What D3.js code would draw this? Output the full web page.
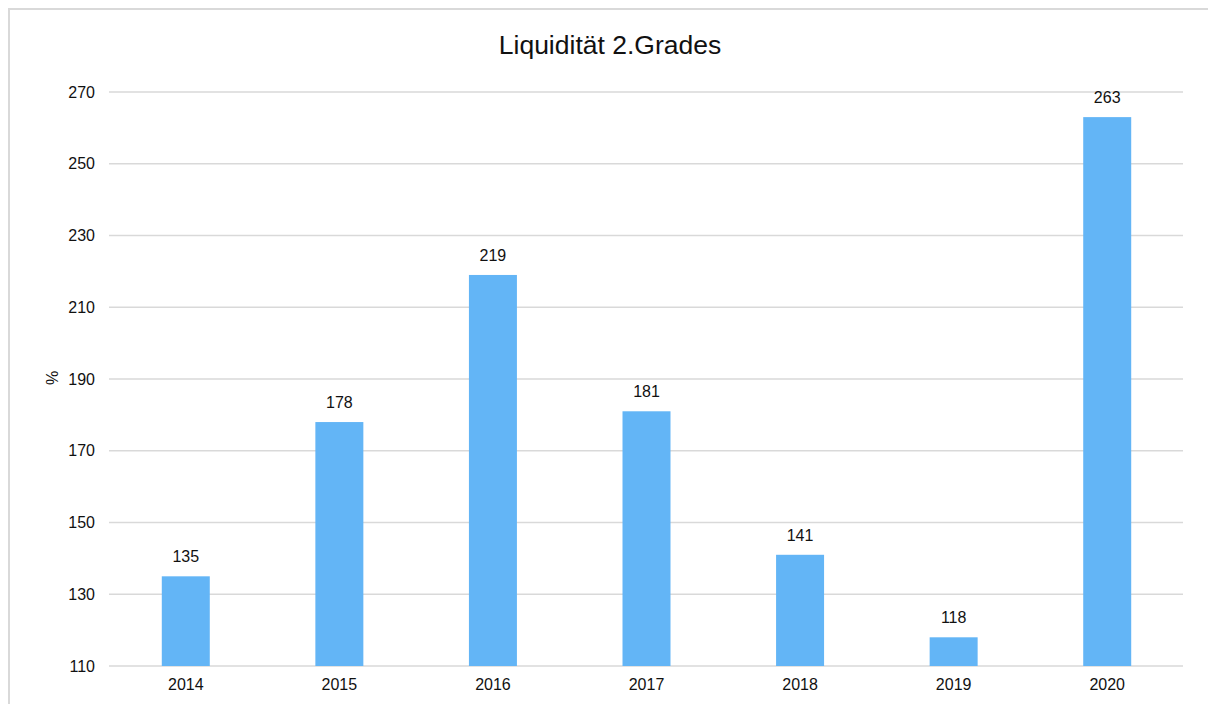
<!DOCTYPE html>
<html>
<head>
<meta charset="utf-8">
<script src="https://cdn.jsdelivr.net/npm/d3@7"></script>
<style>
  html, body { margin: 0; padding: 0; background: #fff; }
  svg { display: block; font-family: "Liberation Sans", Arial, Helvetica, sans-serif; }
</style>
</head>
<body>
<svg id="chart" width="1208" height="704"></svg>
<script>
// Second-degree liquidity ratio per year (%)
const years = ["2014", "2015", "2016", "2017", "2018", "2019", "2020"];
const values = [135, 178, 219, 181, 141, 118, 263];
const yTicks = [110, 130, 150, 170, 190, 210, 230, 250, 270];
const chartTitle = "Liquidität 2.Grades";
const yLabel = "%";

const svg = d3.select("#chart");
const textColor = "#111";

// outer frame
svg.append("rect")
  .attr("x", 9).attr("y", 9)
  .attr("width", 1208).attr("height", 710)
  .attr("fill", "none")
  .attr("stroke", "#d9d9d9")
  .attr("stroke-width", 2);

const x = d3.scaleBand()
  .domain(years)
  .range([109, 1184])
  .paddingInner(0.6875)
  .paddingOuter(0.34375);

const y = d3.scaleLinear()
  .domain([110, 270])
  .range([666, 92]);

// horizontal grid lines
svg.append("g")
  .selectAll("line")
  .data(yTicks)
  .join("line")
  .attr("x1", 109).attr("x2", 1183)
  .attr("y1", d => y(d)).attr("y2", d => y(d))
  .attr("stroke", "#d9d9d9")
  .attr("stroke-width", 1.5);

// y axis labels
const yAxis = d3.axisLeft(y).tickValues(yTicks).tickSize(0).tickPadding(0);
svg.append("g")
  .attr("transform", "translate(95,0)")
  .call(yAxis)
  .call(g => g.select(".domain").remove())
  .call(g => g.selectAll("text")
    .attr("font-size", 16)
    .attr("font-family", "Liberation Sans, Arial, sans-serif")
    .attr("fill", textColor));

// x axis labels
const xAxis = d3.axisBottom(x).tickSize(0).tickPadding(12.5);
svg.append("g")
  .attr("transform", "translate(0,666)")
  .call(xAxis)
  .call(g => g.select(".domain").remove())
  .call(g => g.selectAll("text")
    .attr("font-size", 16)
    .attr("font-family", "Liberation Sans, Arial, sans-serif")
    .attr("fill", textColor));

// bars
svg.append("g")
  .selectAll("rect")
  .data(values)
  .join("rect")
  .attr("x", (d, i) => x(years[i]))
  .attr("y", d => y(d))
  .attr("width", x.bandwidth())
  .attr("height", d => y(110) - y(d))
  .attr("fill", "#63b5f6");

// value labels
svg.append("g")
  .selectAll("text")
  .data(values)
  .join("text")
  .attr("x", (d, i) => x(years[i]) + x.bandwidth() / 2)
  .attr("y", d => y(d) - 14)
  .attr("text-anchor", "middle")
  .attr("font-size", 16)
  .attr("fill", textColor)
  .text(d => d);

// title
svg.append("text")
  .attr("x", 610)
  .attr("y", 54)
  .attr("text-anchor", "middle")
  .attr("font-size", 26.5)
  .attr("fill", textColor)
  .text(chartTitle);

// y axis title
svg.append("text")
  .attr("transform", "translate(58,378) rotate(-90)")
  .attr("text-anchor", "middle")
  .attr("font-size", 16)
  .attr("fill", textColor)
  .text(yLabel);
</script>
</body>
</html>
